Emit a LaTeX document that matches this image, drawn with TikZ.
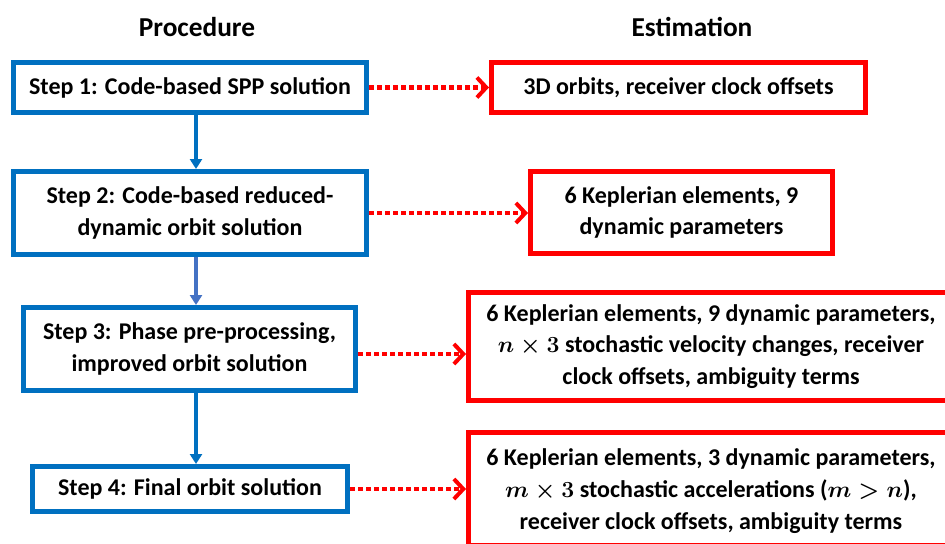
\documentclass[tikz,border=0pt]{standalone}
\usepackage{fontspec}
\setmainfont{Carlito}
\usetikzlibrary{arrows.meta}
\definecolor{stepblue}{HTML}{0070C0}
\definecolor{arrowblue}{HTML}{4472C4}
\definecolor{estred}{HTML}{FF0000}
\begin{document}
\begin{tikzpicture}[x=0.75pt,y=-0.75pt,
  txt/.style={font=\fontsize{18}{23.8}\selectfont\bfseries\boldmath, align=center, inner sep=0pt},
  stepbox/.style={txt, draw=stepblue, line width=3.75pt},
  estbox/.style={txt, draw=estred, line width=3.75pt},
  head/.style={font=\fontsize{20.5}{24}\selectfont\bfseries, inner sep=0pt},
  flow/.style={line width=2.5pt, -{Triangle[width=9pt,length=7.5pt]}},
  est/.style={estred, line width=3.4pt, dash pattern=on 3.9pt off 2.1pt,
    -{Straight Barb[length=7pt,width=15pt,line width=3pt]}}]
\useasboundingbox (0,0) rectangle (945,543);
\clip (0,0) rectangle (945,543);
\fill[white] (0,0) rectangle (945,543);

\node[head] (hp) at (197,27) {Procedure};
\node[head] (he) at (692,27) {Estimation};

\node[stepbox, minimum width=264.75pt, minimum height=37.5pt] (B1) at (190,87.5)
  {Step 1: Code-based SPP solution};
\node[stepbox, minimum width=264.75pt, minimum height=62.25pt] (B2) at (190,213)
  {Step 2: Code-based reduced-\\dynamic orbit solution};
\node[stepbox, minimum width=249pt, minimum height=62.25pt] (B3) at (189.5,349)
  {Step 3: Phase pre-processing,\\improved orbit solution};
\node[stepbox, minimum width=236.25pt, minimum height=33.75pt] (B4) at (190,489)
  {Step 4: Final orbit solution};

\node[estbox, minimum width=280.5pt, minimum height=37.5pt] (R1) at (678.5,87.5)
  {3D orbits, receiver clock offsets};
\node[estbox, minimum width=226.5pt, minimum height=61.5pt] (R2) at (681.5,212.5)
  {6 Keplerian elements, 9\\dynamic parameters};
\node[estbox, minimum width=363.75pt, minimum height=81pt] (R3) at (711,346.5)
  {6 Keplerian elements, 9 dynamic parameters,\\$n\times 3$ stochastic velocity changes, receiver\\clock offsets, ambiguity terms};
\node[estbox, minimum width=363.75pt, minimum height=84.75pt, text depth=0pt] (R4) at (711,489)
  {6 Keplerian elements, 3 dynamic parameters,\\$m\times 3$ stochastic accelerations ($m>n$),\\receiver clock offsets, ambiguity terms};

\coordinate (ax) at (196,0);
\draw[flow, stepblue] (B1.south -| ax) -- (B2.north -| ax);
\draw[flow, arrowblue] (B2.south -| ax) -- (B3.north -| ax);
\draw[flow, stepblue] (B3.south -| ax) -- (B4.north -| ax);

\draw[est] (B1.east) -- (B1.east -| R1.west);
\draw[est] (B2.east) -- (B2.east -| R2.west);
\draw[est] ([yshift=-3.75pt]B3.east) -- ([yshift=-3.75pt]B3.east -| R3.west);
\draw[est] (B4.east) -- (B4.east -| R4.west);
\end{tikzpicture}
\end{document}
